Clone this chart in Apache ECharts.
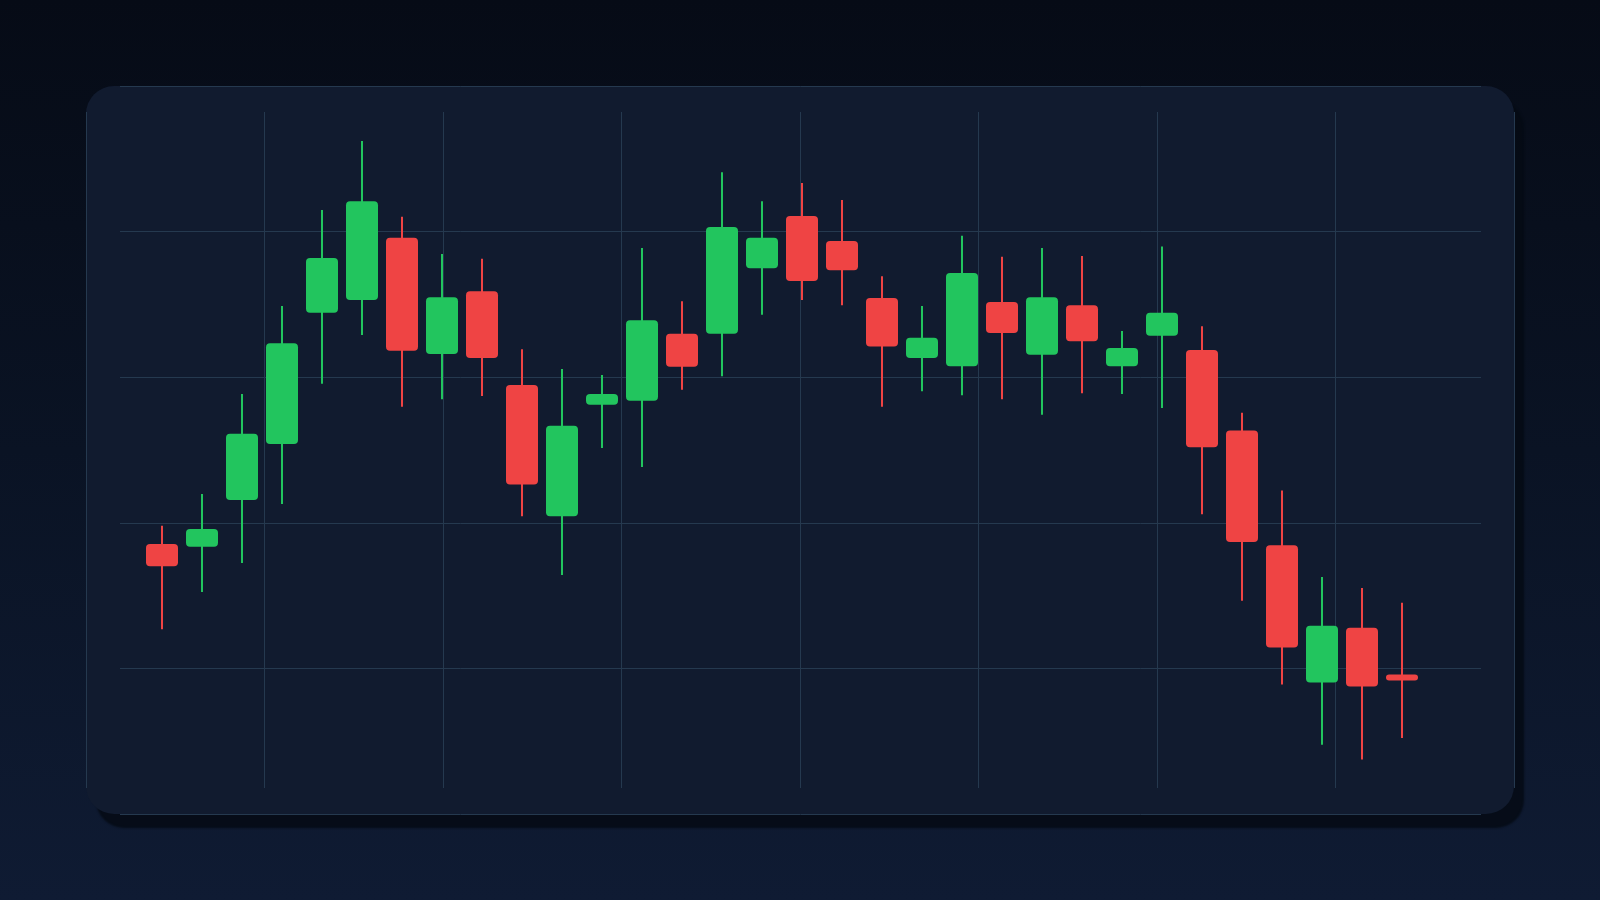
<!DOCTYPE html>
<html>
<head>
<meta charset="utf-8">
<title>K线图</title>
<style>
  html, body {
    margin: 0;
    padding: 0;
    width: 1600px;
    height: 900px;
    overflow: hidden;
    background: linear-gradient(180deg, #060b16 0%, #0a1324 50%, #0f1b33 100%);
  }
  #mychart { width: 1600px; height: 900px; }
</style>
<script src="https://cdn.jsdelivr.net/npm/echarts@6/dist/echarts.min.js"></script>
</head>
<body>
<div id="mychart"></div>
<script>
  // 数据：每根K线的日期、开盘、收盘、最低、最高
  const days = ['03-01', '03-02', '03-03', '03-04', '03-05', '03-06', '03-07', '03-08',
      '03-09', '03-10', '03-11', '03-12', '03-13', '03-14', '03-15', '03-16',
      '03-17', '03-18', '03-19', '03-20', '03-21', '03-22', '03-23', '03-24',
      '03-25', '03-26', '03-27', '03-28', '03-29', '03-30', '03-31', '04-01']
  const opens = [136.1, 135.7, 142.6, 150.9, 170.3, 172.2, 181.4, 164.2, 173.5, 159.6, 140.2, 156.7,
      157.3, 167.2, 167.2, 176.9, 184.6, 180.9, 172.5, 163.6, 162.4, 171.9, 164.1, 171.4,
      162.4, 166.9, 164.8, 152.9, 135.9, 115.6, 123.7, 116.8]
  const closes = [132.8, 138.3, 152.4, 165.8, 178.4, 186.8, 164.7, 172.6, 163.6, 144.9, 153.6, 158.3,
      169.2, 162.3, 183.0, 181.4, 175.0, 176.6, 165.3, 166.6, 176.2, 167.3, 172.6, 166.1,
      165.1, 170.3, 150.4, 136.4, 120.8, 124.0, 115.0, 115.9]
  const lows = [123.5, 129.0, 133.3, 142.0, 159.8, 167.0, 156.4, 157.5, 158.0, 140.2, 131.5, 150.3,
      147.5, 158.9, 160.9, 170.0, 172.2, 171.4, 156.4, 158.7, 158.1, 157.5, 155.2, 158.4,
      158.3, 156.2, 140.5, 127.7, 115.3, 106.4, 104.2, 107.4]
  const highs = [138.8, 143.5, 158.3, 171.3, 185.5, 195.7, 184.5, 179.0, 178.3, 164.9, 162.0, 161.1,
      179.9, 172.0, 191.1, 186.8, 189.5, 187.0, 175.7, 171.3, 181.7, 178.6, 179.9, 178.7,
      167.6, 180.1, 168.3, 155.5, 144.0, 131.2, 129.6, 127.4]

  const upColor = '#22c55e'
  const downColor = '#ef4444'
  const gridColor = '#25394f'

  // 类目轴前面空一格，后面空两格
  const categories = [''].concat(days, ['', ''])
  const kData = days.map((d, i) => [i + 1, opens[i], closes[i], lows[i], highs[i]])

  // 画一根圆角K线
  function renderCandle(params, api) {
      const idx = api.value(0)
      const o = api.value(1)
      const c = api.value(2)
      const color = c >= o ? upColor : downColor
      const top = api.coord([idx, Math.max(o, c)])
      const bottom = api.coord([idx, Math.min(o, c)])
      const hi = api.coord([idx, api.value(4)])
      const lo = api.coord([idx, api.value(3)])
      const w = api.size([1, 0])[0] * 0.8
      let by = top[1]
      let bh = bottom[1] - top[1]
      if (bh < 6) {
          by = (top[1] + bottom[1]) / 2 - 3
          bh = 6
      }
      return {
          type: 'group',
          children: [{
                  type: 'line',
                  shape: { x1: hi[0], y1: hi[1], x2: lo[0], y2: lo[1] },
                  style: { stroke: color, lineWidth: 2 }
              },
              {
                  type: 'rect',
                  shape: { x: top[0] - w / 2, y: by, width: w, height: bh, r: Math.min(4, bh / 2) },
                  style: { fill: color }
              }
          ]
      }
  }

  const myChart = echarts.init(document.getElementById('mychart'))
  const option = {
      backgroundColor: 'transparent',
      animation: false,
      // 卡片背景
      graphic: [{
          type: 'rect',
          z: -10,
          shape: { x: 86, y: 86, width: 1428, height: 728, r: 28 },
          style: {
              fill: '#111b2f',
              shadowBlur: 2,
              shadowOffsetX: 10,
              shadowOffsetY: 14,
              shadowColor: 'rgba(5, 10, 20, 0.85)'
          }
      }],
      grid: [
          { left: 122, top: 112, width: 1360, height: 676 },   // K线
          { left: 86, top: 112, width: 1428, height: 676 },    // 竖网格线
          { left: 120, top: 86, width: 1361, height: 728 }     // 横网格线
      ],
      xAxis: [{
              gridIndex: 0,
              type: 'category',
              data: categories,
              boundaryGap: false,
              show: false
          },
          {
              gridIndex: 1,
              type: 'value',
              min: 0,
              max: 8,
              interval: 1,
              axisLine: { show: false },
              axisTick: { show: false },
              axisLabel: { show: false },
              splitLine: { show: true, lineStyle: { color: gridColor, width: 1 } }
          },
          {
              gridIndex: 2,
              type: 'value',
              show: false
          }
      ],
      yAxis: [{
              gridIndex: 0,
              type: 'value',
              min: 100,
              max: 200,
              show: false
          },
          {
              gridIndex: 1,
              type: 'value',
              show: false
          },
          {
              gridIndex: 2,
              type: 'value',
              min: 0,
              max: 5,
              interval: 1,
              axisLine: { show: false },
              axisTick: { show: false },
              axisLabel: { show: false },
              splitLine: { show: true, lineStyle: { color: gridColor, width: 1 } }
          }
      ],
      series: [{
          type: 'custom',
          xAxisIndex: 0,
          yAxisIndex: 0,
          renderItem: renderCandle,
          encode: { x: 0, y: [1, 2, 3, 4] },
          data: kData
      }]
  }
  myChart.setOption(option)
</script>
</body>
</html>
